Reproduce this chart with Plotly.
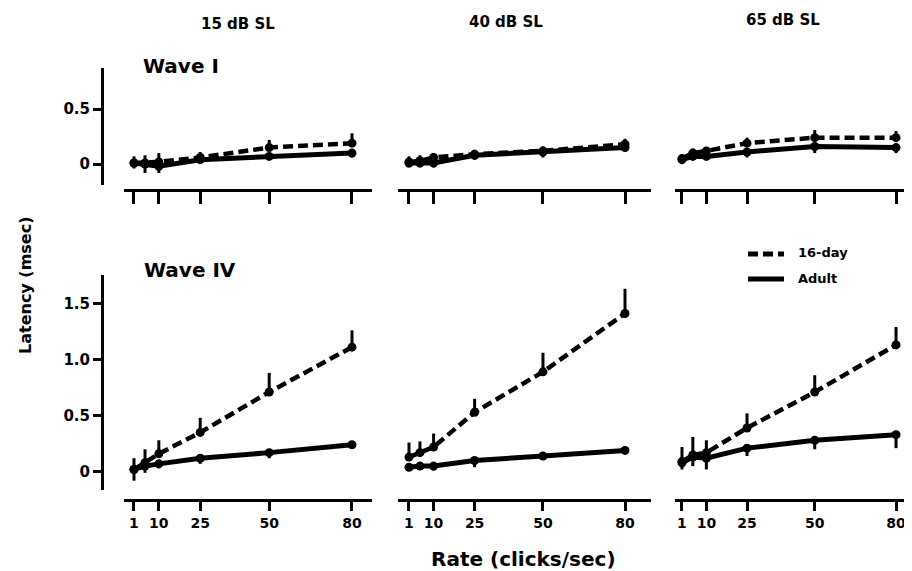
import plotly.graph_objects as go

W, H = 912, 571
OFF = 8  # page body margin added by the browser
FW, FH = W - OFF, H - OFF

rates = [1, 5, 10, 25, 50, 80]
x_tick_vals = [1, 10, 25, 50, 80]
x_tick_text = ["1", "10", "25", "50", "80"]
column_titles = ["15 dB SL", "40 dB SL", "65 dB SL"]
row_titles = ["Wave I", "Wave IV"]
series_names = ["16-day", "Adult"]

# Wave I  (latency shift, msec)
w1_day16_15 = [0.01, 0.01, 0.02, 0.06, 0.15, 0.19]
w1_day16_15_err = [0.06, 0.07, 0.08, 0.05, 0.07, 0.09]
w1_adult_15 = [0.01, 0.00, -0.02, 0.04, 0.07, 0.10]
w1_adult_15_err = [0.05, 0.08, 0.06, 0.03, 0.03, 0.04]

w1_day16_40 = [0.02, 0.03, 0.06, 0.09, 0.12, 0.18]
w1_day16_40_err = [0.05, 0.05, 0.04, 0.04, 0.04, 0.05]
w1_adult_40 = [0.01, 0.01, 0.01, 0.08, 0.11, 0.15]
w1_adult_40_err = [0.04, 0.04, 0.04, 0.04, 0.05, 0.03]

w1_day16_65 = [0.05, 0.10, 0.12, 0.19, 0.24, 0.24]
w1_day16_65_err = [0.04, 0.04, 0.03, 0.05, 0.07, 0.06]
w1_adult_65 = [0.04, 0.07, 0.07, 0.11, 0.16, 0.15]
w1_adult_65_err = [0.04, 0.03, 0.03, 0.05, 0.06, 0.05]

# Wave IV
w4_day16_15 = [0.02, 0.08, 0.16, 0.35, 0.71, 1.11]
w4_day16_15_err = [0.10, 0.12, 0.12, 0.13, 0.17, 0.15]
w4_adult_15 = [0.02, 0.05, 0.07, 0.12, 0.17, 0.24]
w4_adult_15_err = [0.10, 0.06, 0.04, 0.05, 0.05, 0.03]

w4_day16_40 = [0.13, 0.17, 0.22, 0.53, 0.89, 1.41]
w4_day16_40_err = [0.13, 0.10, 0.12, 0.12, 0.17, 0.22]
w4_adult_40 = [0.04, 0.05, 0.05, 0.10, 0.14, 0.19]
w4_adult_40_err = [0.03, 0.03, 0.04, 0.06, 0.03, 0.03]

w4_day16_65 = [0.09, 0.15, 0.17, 0.39, 0.71, 1.13]
w4_day16_65_err = [0.13, 0.16, 0.11, 0.13, 0.15, 0.16]
w4_adult_65 = [0.08, 0.13, 0.12, 0.21, 0.28, 0.33]
w4_adult_65_err = [0.06, 0.08, 0.10, 0.07, 0.08, 0.12]

panels = [
    [(w1_day16_15, w1_day16_15_err, w1_adult_15, w1_adult_15_err),
     (w1_day16_40, w1_day16_40_err, w1_adult_40, w1_adult_40_err),
     (w1_day16_65, w1_day16_65_err, w1_adult_65, w1_adult_65_err)],
    [(w4_day16_15, w4_day16_15_err, w4_adult_15, w4_adult_15_err),
     (w4_day16_40, w4_day16_40_err, w4_adult_40, w4_adult_40_err),
     (w4_day16_65, w4_day16_65_err, w4_adult_65, w4_adult_65_err)],
]

FONT = "DejaVu Sans, Liberation Sans, Arial, sans-serif"


def px_x(p):
    return (p - OFF) / FW


def px_y(p):
    return 1 - (p - OFF) / FH


# layout geometry (screen pixels)
x_domains_px = [(124, 372), (398, 651), (675, 912)]
x_ranges = [[-2.62, 87.25], [-3.02, 89.51], [-1.58, 85.9]]
y_domains_px = [(68, 185), (275, 490)]
y_ranges = [[-0.19, 0.873], [-0.163, 1.753]]
x_line_px = [190, 500]
y_line_px = 102
y_tick_vals = [[0, 0.5], [0, 0.5, 1.0, 1.5]]
y_tick_text = [["0", "0.5"], ["0", "0.5", "1.0", "1.5"]]

fig = go.Figure()
layout = {}

for r in range(2):
    for c in range(3):
        idx = r * 3 + c + 1
        xa = "x" if idx == 1 else f"x{idx}"
        ya = "y" if idx == 1 else f"y{idx}"
        xkey = "xaxis" if idx == 1 else f"xaxis{idx}"
        ykey = "yaxis" if idx == 1 else f"yaxis{idx}"
        d16, d16e, ad, ade = panels[r][c]

        fig.add_trace(go.Scatter(
            x=rates, y=d16, xaxis=xa, yaxis=ya, mode="lines+markers",
            name=series_names[0], showlegend=False, cliponaxis=False,
            line=dict(color="black", width=4.5, dash="10px,5px"),
            marker=dict(size=9, color="black"),
            error_y=dict(type="data", symmetric=False, array=d16e,
                         arrayminus=[0] * len(rates), thickness=3, width=0,
                         color="black"),
        ))
        fig.add_trace(go.Scatter(
            x=rates, y=ad, xaxis=xa, yaxis=ya, mode="lines+markers",
            name=series_names[1], showlegend=False, cliponaxis=False,
            line=dict(color="black", width=5),
            marker=dict(size=9, color="black"),
            error_y=dict(type="data", symmetric=False, array=[0] * len(rates),
                         arrayminus=ade, thickness=3, width=0, color="black"),
        ))

        xd = x_domains_px[c]
        layout[xkey] = dict(
            domain=[px_x(xd[0]), min(1.0, px_x(xd[1]))],
            range=x_ranges[c], anchor="free", position=px_y(x_line_px[r]),
            showline=True, linecolor="black", linewidth=3,
            ticks="outside", ticklen=12 if r == 0 else 9, tickwidth=3,
            tickcolor="black",
            tickvals=x_tick_vals, ticktext=x_tick_text,
            showticklabels=(r == 1),
            tickfont=dict(family=FONT, size=14, color="black", weight="bold"),
            showgrid=False, zeroline=False, fixedrange=True,
        )
        yd = y_domains_px[r]
        layout[ykey] = dict(
            domain=[px_y(yd[1]), px_y(yd[0])],
            range=y_ranges[r], anchor="free", position=px_x(y_line_px),
            visible=(c == 0),
            showline=True, linecolor="black", linewidth=3,
            ticks="outside", ticklen=8, tickwidth=3, tickcolor="black",
            tickvals=y_tick_vals[r], ticktext=y_tick_text[r],
            tickfont=dict(family=FONT, size=15, color="black", weight="bold"),
            showgrid=False, zeroline=False, fixedrange=True,
        )

annotations = []
title_pos = [(238, 24), (506, 22), (783, 20)]
for t, (ax, ay) in zip(column_titles, title_pos):
    annotations.append(dict(text=t, x=px_x(ax), y=px_y(ay), xref="paper",
                            yref="paper", showarrow=False, xanchor="center",
                            yanchor="middle",
                            font=dict(family=FONT, size=15, color="black",
                                      weight="bold")))
for t, (ax, ay) in zip(row_titles, [(181, 66), (190, 270)]):
    annotations.append(dict(text=t, x=px_x(ax), y=px_y(ay), xref="paper",
                            yref="paper", showarrow=False, xanchor="center",
                            yanchor="middle",
                            font=dict(family=FONT, size=20, color="black",
                                      weight="bold")))
annotations.append(dict(text="Latency (msec)", x=px_x(26), y=px_y(285),
                        xref="paper", yref="paper", showarrow=False,
                        textangle=-90, xanchor="center", yanchor="middle",
                        font=dict(family=FONT, size=16, color="black",
                                  weight="bold")))
annotations.append(dict(text="Rate (clicks/sec)", x=px_x(523), y=px_y(559),
                        xref="paper", yref="paper", showarrow=False,
                        xanchor="center", yanchor="middle",
                        font=dict(family=FONT, size=20, color="black",
                                  weight="bold")))
# legend
legend_rows = [(series_names[0], 254, "10px,5px"), (series_names[1], 279, "solid")]
shapes = []
for name, ly, dash in legend_rows:
    shapes.append(dict(type="line", xref="paper", yref="paper",
                       x0=px_x(748), x1=px_x(784), y0=px_y(ly), y1=px_y(ly),
                       line=dict(color="black", width=5, dash=dash)))
    annotations.append(dict(text=name, x=px_x(796), y=px_y(ly - 1),
                            xref="paper", yref="paper", showarrow=False,
                            xanchor="left", yanchor="middle",
                            font=dict(family=FONT, size=13, color="black",
                                      weight="bold")))

fig.update_layout(
    width=FW, height=FH, autosize=False,
    margin=dict(l=0, r=0, t=0, b=0),
    paper_bgcolor="white", plot_bgcolor="white",
    showlegend=False,
    annotations=annotations, shapes=shapes,
    **layout,
)

fig.write_html("out.html")
